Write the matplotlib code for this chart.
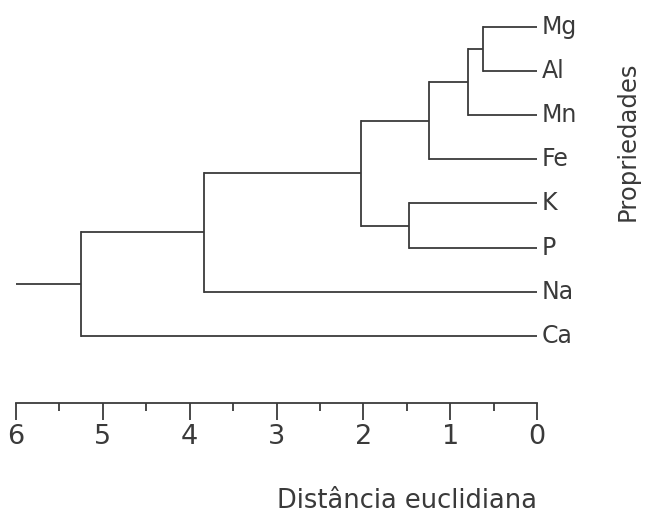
import matplotlib
matplotlib.use("Agg")
import matplotlib.pyplot as plt
from matplotlib.ticker import MultipleLocator

plt.rcParams['font.family'] = ['DejaVu Sans']

# Leaves (top to bottom)
leaves = ['Mg', 'Al', 'Mn', 'Fe', 'K', 'P', 'Na', 'Ca']
# Merges: left child, right child, euclidean distance ('n#' = earlier merge)
merge_a = ['Mg', 'n0', 'n1', 'K', 'n2', 'n4', 'n5']
merge_b = ['Al', 'Mn', 'Fe', 'P', 'n3', 'Na', 'Ca']
merge_h = [0.62, 0.80, 1.24, 1.47, 2.03, 3.83, 5.25]
root_tail = 6.0

x_ticks = [6, 5, 4, 3, 2, 1, 0]
x_label = 'Distância euclidiana'
y_label = 'Propriedades'

col = '#3a3a3a'
lw = 1.3

fig = plt.figure(figsize=(6.49, 5.16), dpi=100)
ax = fig.add_axes([16/649, 1 - 403/516, 521/649, 403/516])

pos = {name: (0.0, i) for i, name in enumerate(leaves)}
for k, (a, b, h) in enumerate(zip(merge_a, merge_b, merge_h)):
    xa, ya = pos[a]
    xb, yb = pos[b]
    ax.plot([xa, h], [ya, ya], color=col, lw=lw, solid_capstyle='butt')
    ax.plot([xb, h], [yb, yb], color=col, lw=lw, solid_capstyle='butt')
    ax.plot([h, h], [ya, yb], color=col, lw=lw, solid_capstyle='projecting')
    pos['n%d' % k] = (h, (ya + yb) / 2)

xr, yr = pos['n%d' % (len(merge_h) - 1)]
ax.plot([xr, root_tail], [yr, yr], color=col, lw=lw, solid_capstyle='butt')

for i, name in enumerate(leaves):
    ax.text(-0.05, i, name, ha='left', va='center', fontsize=17, color=col)

ax.set_xlim(6, 0)
ax.set_ylim(8.52, -0.61)
ax.set_xticks(x_ticks)
ax.set_xticklabels([str(t) for t in x_ticks], fontsize=19.5, color=col)
ax.xaxis.set_minor_locator(MultipleLocator(0.5))
ax.tick_params(axis='x', which='major', length=12, width=lw, color=col, pad=3, direction='out')
ax.tick_params(axis='x', which='minor', length=5.8, width=lw, color=col, direction='out')
ax.set_yticks([])
for s in ['top', 'left', 'right']:
    ax.spines[s].set_visible(False)
ax.spines['bottom'].set_color(col)
ax.spines['bottom'].set_linewidth(lw)
ax.patch.set_alpha(0)

fig.text(537/649, 2/516, x_label, ha='right', va='bottom', fontsize=18.5, color=col)
fig.text(628/649, 1 - 141/516, y_label, ha='center', va='center', rotation=90, fontsize=17.5, color=col)

fig.savefig('out.png', dpi=100)
